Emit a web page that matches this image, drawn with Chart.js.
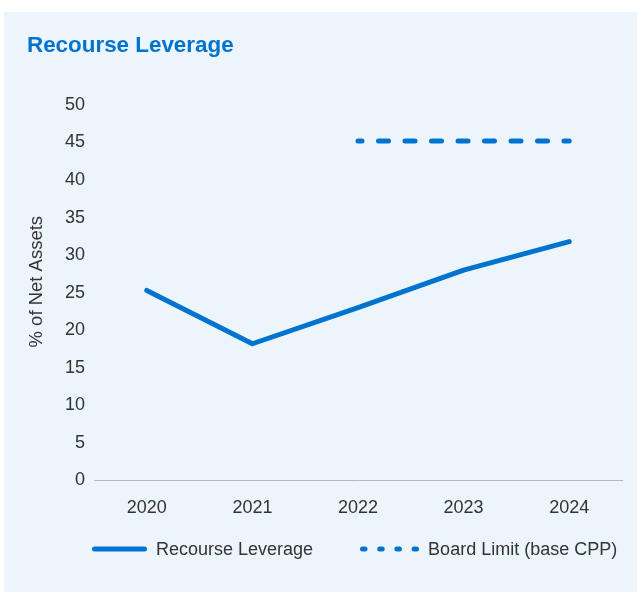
<!DOCTYPE html>
<html>
<head>
<meta charset="utf-8">
<script src="https://cdn.jsdelivr.net/npm/chart.js@4"></script>
<style>
    html, body { margin: 0; padding: 0; background: #ffffff; }
    #panel {
        position: absolute;
        left: 4px;
        top: 12px;
        width: 633px;
        height: 580px;
        background: #ecf4fc;
    }
    #chart { display: block; }
    #legend {
        position: absolute;
        left: 88px;
        top: 526px;
        height: 22px;
        display: flex;
        align-items: center;
        font: 18px 'Liberation Sans', Arial, Helvetica, sans-serif;
        color: #333333;
        white-space: nowrap;
    }
    .legend-item { display: flex; align-items: center; margin-right: 47px; }
    .legend-item svg { margin-right: 9px; }
</style>
</head>
<body>
<div id="panel">
    <canvas id="chart" width="633" height="580"></canvas>
    <div id="legend"></div>
</div>
<script>

/* ---------- Data ---------- */

const years = ["2020", "2021", "2022", "2023", "2024"];

const recourseLeverage = [25.3, 18.2, 23.0, 28.0, 31.8];

const boardLimit = [null, null, 45.2, 45.2, 45.2];

const yTicks = [0, 5, 10, 15, 20, 25, 30, 35, 40, 45, 50];

/* ---------- Style ---------- */

const BLUE = "#0073cf";
const TEXT = "#333333";
const FONT = "'Liberation Sans', Arial, Helvetica, sans-serif";

Chart.defaults.font.family = FONT;
Chart.defaults.color = TEXT;

/* ---------- Plugins ---------- */

// legend as html, built from the datasets
const htmlLegend = {
    id: "htmlLegend",
    afterUpdate(chart) {
        const box = document.getElementById("legend");
        box.innerHTML = "";
        chart.data.datasets.forEach(ds => {
            const item = document.createElement("div");
            item.className = "legend-item";
            const w = ds.legendWidth;
            const dash = (ds.legendDash || []).join(" ");
            item.innerHTML =
                '<svg width="' + w + '" height="8">' +
                '<line x1="2.5" y1="4" x2="' + (w - 2.5) + '" y2="4" stroke="' + ds.borderColor +
                '" stroke-width="' + ds.borderWidth + '" stroke-linecap="round"' +
                (dash ? ' stroke-dasharray="' + dash + '"' : "") + "/></svg>";
            const label = document.createElement("span");
            label.textContent = ds.label;
            item.appendChild(label);
            box.appendChild(item);
        });
    }
};

// y axis title, sits a little above the middle of the axis
const yTitle = {
    id: "yTitle",
    afterDraw(chart) {
        const { ctx, chartArea } = chart;
        ctx.save();
        ctx.translate(32.5, (chartArea.top + chartArea.bottom) / 2 - 11);
        ctx.rotate(-Math.PI / 2);
        ctx.font = "18.5px " + FONT;
        ctx.fillStyle = TEXT;
        ctx.textAlign = "center";
        ctx.textBaseline = "middle";
        ctx.fillText("% of Net Assets", 0, 0);
        ctx.restore();
    }
};

const ctx = document.getElementById("chart");

new Chart(ctx, {
    type: "line",
    data: {
        labels: years,
        datasets: [
            {
                label: "Recourse Leverage",
                data: recourseLeverage,
                borderColor: BLUE,
                backgroundColor: BLUE,
                borderWidth: 5,
                borderCapStyle: "round",
                borderJoinStyle: "round",
                pointRadius: 0,
                tension: 0,
                legendDash: [],
                legendWidth: 55
            },
            {
                label: "Board Limit (base CPP)",
                data: boardLimit,
                borderColor: BLUE,
                backgroundColor: BLUE,
                borderWidth: 5,
                borderDash: [10, 16.5],
                borderDashOffset: 6,
                borderCapStyle: "round",
                pointRadius: 0,
                tension: 0,
                legendDash: [2.5, 14.7],
                legendWidth: 59
            }
        ]
    },
    options: {
        responsive: false,
        animation: false,
        layout: {
            padding: { top: 0, left: 23, right: 15, bottom: 56 }
        },
        plugins: {
            title: {
                display: true,
                text: "Recourse Leverage",
                align: "start",
                color: BLUE,
                font: { size: 22.4, weight: "bold", family: FONT },
                padding: { top: 20.5, bottom: 45.6 }
            },
            legend: { display: false },
            tooltip: { enabled: false }
        },
        scales: {
            x: {
                offset: true,
                grid: { display: false, drawTicks: false },
                border: { display: true, color: "#b4b9c0", width: 1 },
                ticks: {
                    padding: 17,
                    color: TEXT,
                    font: { size: 18, family: FONT }
                }
            },
            y: {
                min: 0,
                max: 50,
                afterBuildTicks(scale) {
                    scale.ticks = yTicks.map(v => ({ value: v }));
                },
                grid: { display: false, drawTicks: false },
                border: { display: false },
                ticks: {
                    padding: 9,
                    color: TEXT,
                    font: { size: 18, family: FONT }
                },
                afterFit(scale) {
                    scale.width = 67;
                }
            }
        }
    },
    plugins: [htmlLegend, yTitle]
});

</script>
</body>
</html>
